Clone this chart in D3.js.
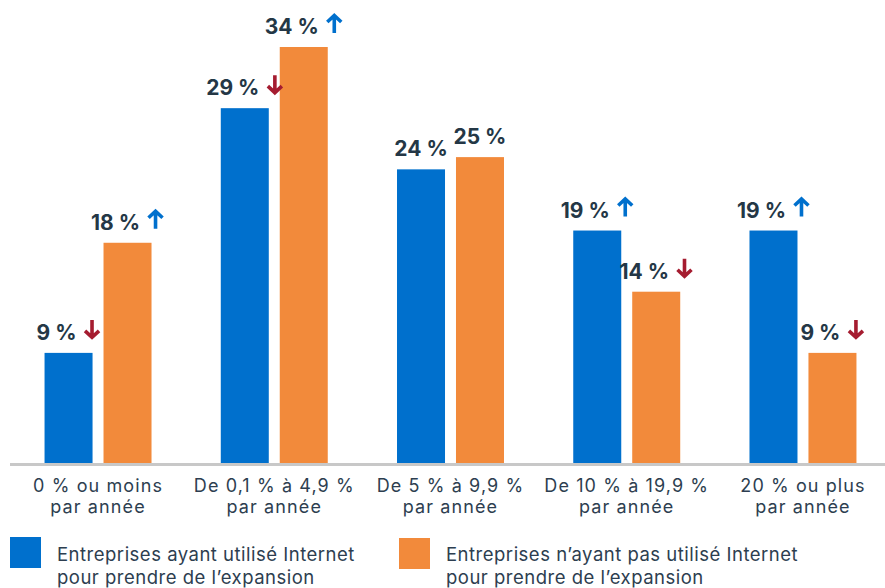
<!DOCTYPE html>
<html lang="fr">
<head>
<meta charset="utf-8">
<script src="https://cdn.jsdelivr.net/npm/d3@7"></script>
<style>
  html, body { margin: 0; padding: 0; background: #ffffff; }
  svg { display: block; font-family: "Inter", "Noto Sans", sans-serif; }
</style>
</head>
<body>
<svg id="chart" width="885" height="588"></svg>
<script>
// Croissance annuelle des ventes, selon l'utilisation d'Internet pour l'expansion
const categories = [
  ["0 % ou moins", "par année"],
  ["De 0,1 % à 4,9 %", "par année"],
  ["De 5 % à 9,9 %", "par année"],
  ["De 10 % à 19,9 %", "par année"],
  ["20 % ou plus", "par année"]
];
const seriesNames = [
  ["Entreprises ayant utilisé Internet", "pour prendre de l’expansion"],
  ["Entreprises n’ayant pas utilisé Internet", "pour prendre de l’expansion"]
];
const usedInternet    = [9, 29, 24, 19, 19];
const notUsedInternet = [18, 34, 25, 14, 9];
// Écart notable : "up", "down" ou null
const usedTrend    = ["down", "down", null, "up", "up"];
const notUsedTrend = ["up", "up", null, "down", "down"];

const colors = ["#0070cd", "#f28a3b"];
const arrowColors = { up: "#0070cd", down: "#a51c30" };

const svg = d3.select("#chart");
const baseY = 463;

const catKeys = categories.map(c => c.join(" "));
const x0 = d3.scaleBand()
  .domain(catKeys)
  .range([10, 891])
  .paddingInner(0.393)
  .paddingOuter(0.196);

const x1 = d3.scaleBand()
  .domain([0, 1])
  .range([0, x0.bandwidth()])
  .paddingInner(0.186)
  .paddingOuter(0);

const y = d3.scaleLinear().domain([0, 34]).range([baseY, 47]);

const rows = catKeys.map((k, i) => ({
  key: k,
  values: [
    { s: 0, v: usedInternet[i], trend: usedTrend[i] },
    { s: 1, v: notUsedInternet[i], trend: notUsedTrend[i] }
  ]
}));

// Barres
const groups = svg.append("g").selectAll("g")
  .data(rows).join("g")
  .attr("transform", d => `translate(${x0(d.key)},0)`);

groups.selectAll("rect")
  .data(d => d.values).join("rect")
  .attr("x", d => x1(d.s))
  .attr("y", d => y(d.v))
  .attr("width", x1.bandwidth())
  .attr("height", d => baseY - y(d.v))
  .attr("fill", d => colors[d.s]);

// Étiquettes de valeur avec flèche de tendance
const labels = groups.selectAll("g.lbl")
  .data(d => d.values).join("g")
  .attr("class", "lbl");

labels.each(function(d) {
  const g = d3.select(this);
  const cx = x1(d.s) + x1.bandwidth() / 2;
  const by = y(d.v) - 13;
  const t = g.append("text")
    .attr("y", by)
    .attr("font-size", 21)
    .attr("font-weight", 700)
    .attr("fill", "#243746")
    .text(d.v + " %");
  const tw = t.node().getComputedTextLength();
  const total = d.trend ? tw + 24 : tw;
  const left = cx - total / 2;
  t.attr("x", left);
  if (d.trend) {
    const ax = left + tw + 15.5;
    const top = by - 20, bot = by - 1;
    const p = d3.path();
    if (d.trend === "up") {
      p.moveTo(ax, bot); p.lineTo(ax, top + 1.5);
      p.moveTo(ax - 7, top + 8); p.lineTo(ax, top + 1.5); p.lineTo(ax + 7, top + 8);
    } else {
      p.moveTo(ax, top); p.lineTo(ax, bot - 1.5);
      p.moveTo(ax - 7, bot - 8); p.lineTo(ax, bot - 1.5); p.lineTo(ax + 7, bot - 8);
    }
    g.append("path")
      .attr("d", p.toString())
      .attr("fill", "none")
      .attr("stroke", arrowColors[d.trend])
      .attr("stroke-width", 3.6)
      .attr("stroke-linejoin", "miter");
  }
});

// Axe horizontal
const axis = svg.append("g")
  .attr("transform", `translate(0,${baseY})`)
  .call(d3.axisBottom(x0).tickSize(0).tickPadding(0));

axis.attr("font-size", 18).attr("font-family", "Inter, sans-serif");

axis.select(".domain")
  .attr("stroke", "#c8c8c8")
  .attr("stroke-width", 3)
  .attr("d", "M10,1.5H891");

axis.selectAll(".tick text").each(function(k) {
  const lines = categories[catKeys.indexOf(k)];
  const t = d3.select(this)
    .text(null)
    .attr("y", 0)
    .attr("dy", null)
    .attr("fill", "#2d3e50")
    .attr("letter-spacing", "1.1px");
  lines.forEach((ln, i) => {
    t.append("tspan").attr("x", 0).attr("y", 29 + i * 21).text(ln);
  });
});

// Légende
const legend = svg.append("g").selectAll("g")
  .data(seriesNames).join("g")
  .attr("transform", (d, i) => `translate(${i === 0 ? 10 : 399},537)`);

legend.append("rect")
  .attr("width", 31).attr("height", 31)
  .attr("y", (d, i) => i)
  .attr("fill", (d, i) => colors[i]);

legend.append("text")
  .attr("fill", "#2d3e50")
  .attr("font-size", 18.5)
  .attr("letter-spacing", "0.5px")
  .selectAll("tspan").data(d => d).join("tspan")
  .attr("x", 47)
  .attr("y", (d, i) => 24 + i * 23)
  .text(d => d);
</script>
</body>
</html>
